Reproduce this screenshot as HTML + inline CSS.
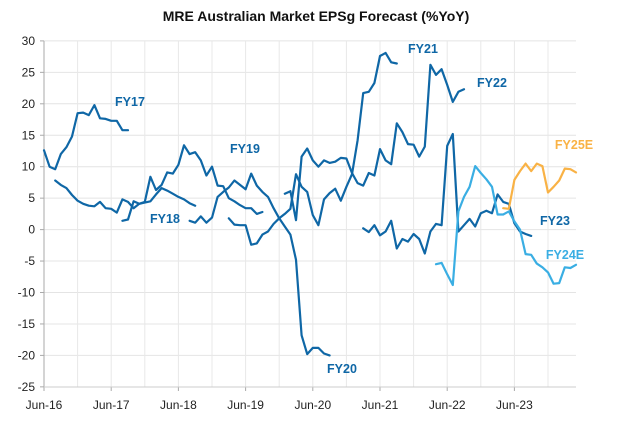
<!DOCTYPE html>
<html><head><meta charset="utf-8">
<style>
html,body{margin:0;padding:0;background:#fff;}
body{width:631px;height:426px;overflow:hidden;font-family:"Liberation Sans",sans-serif;}
svg text{font-family:"Liberation Sans",sans-serif;}
</style></head>
<body>
<svg id="chart" width="631" height="426" xmlns="http://www.w3.org/2000/svg">
<text x="316" y="21" text-anchor="middle" font-size="14" font-weight="bold" fill="#111">MRE Australian Market EPSg Forecast (%YoY)</text>
<g id="grid"></g>
<g id="axes"></g>
<g id="series"></g>
<g id="labels"></g>
</svg>
<script>
// month index 0 = Jun-16
const yTicks = [30,25,20,15,10,5,0,-5,-10,-15,-20,-25];
const xTickLabels = ["Jun-16","Jun-17","Jun-18","Jun-19","Jun-20","Jun-21","Jun-22","Jun-23"];
const seriesNames = ["FY17","FY18","FY19","FY20","FY21","FY22","FY23","FY24E","FY25E"];
const seriesStarts = [0,2,14,26,33,43,57,70,82];
const fy17 = [12.6,10,9.6,12,13.1,14.8,18.5,18.6,18.2,19.8,17.7,17.6,17.3,17.3,15.8,15.8];
const fy18 = [7.8,7.1,6.6,5.5,4.6,4.1,3.8,3.7,4.4,3.4,3.3,2.7,4.8,4.4,3.4,4.1,4.3,4.5,5.6,6.6,6.2,5.7,5.2,4.8,4.2,3.8];
const fy19 = [1.4,1.6,4.5,4.1,4.4,8.4,6.3,7.1,9.1,8.9,10.3,13.4,12,12.3,11,8.6,10,7,6.9,5,4.5,3.9,3.4,3.4,2.5,2.8];
const fy20 = [1.4,1.1,2.1,1.1,1.9,5.2,6,6.7,7.8,7.1,6.4,8.9,7,6,5.2,3.4,1.8,0.5,-0.8,-4.8,-16.8,-19.8,-18.8,-18.8,-19.7,-20];
const fy21 = [1.8,0.8,0.7,0.7,-2.4,-2.2,-0.8,-0.3,0.9,1.8,2.5,3.3,8.8,6.8,6,2.3,0.7,4.8,5.8,6.5,4.6,6.8,8.8,14.2,21.7,21.9,23.3,27.6,28.1,26.6,26.4];
const fy22 = [5.7,6.1,1.5,11.6,12.9,11.0,10.0,11.0,10.6,10.8,11.4,11.3,9.0,7.4,7.0,9.0,8.6,12.8,11.0,10.4,16.9,15.5,13.6,13.5,11.6,13.2,26.2,24.6,25.5,23,20.3,21.9,22.3];
const fy23 = [0.2,-0.4,0.7,-0.9,-0.3,1.4,-3,-1.5,-1.9,-0.7,-1.5,-3.8,-0.3,0.9,0.7,13.3,15.2,-0.3,0.7,1.7,0.5,2.6,3.0,2.6,5.6,4.4,4.1,1,-0.3,-0.7,-1];
const fy24e = [-5.5,-5.3,-7.1,-8.8,2.9,5.2,6.8,10.1,9.0,8,6.8,2.4,2.4,2.9,1.3,0,-3.9,-4,-5.4,-6,-6.8,-8.6,-8.5,-6,-6.1,-5.6];
const fy25e = [3.4,3.3,7.9,9.3,10.5,9.3,10.5,10.1,5.9,6.8,7.8,9.7,9.6,9.1];
const seriesValues = [fy17,fy18,fy19,fy20,fy21,fy22,fy23,fy24e,fy25e];

const DARK="#0f67a6", LIGHT="#3aaee3", ORANGE="#f9b245";
const seriesColors=[DARK,DARK,DARK,DARK,DARK,DARK,DARK,LIGHT,ORANGE];
const labelPos=[[130,106],[165,223],[245,153],[342,373],[423,53],[492,87],[555,225],[565,259],[574,149]];

const X0=44, XM=5.6, Y0=229.6, YU=6.29, XR=576, YT=41, YB=387;
const xS = m => X0 + m*XM;
const yS = v => Y0 - v*YU;
const NS="http://www.w3.org/2000/svg";
function mk(tag, attrs, parent){const e=document.createElementNS(NS,tag);for(const k in attrs)e.setAttribute(k,attrs[k]);parent.appendChild(e);return e;}
const grid=document.getElementById('grid'), axes=document.getElementById('axes'), ser=document.getElementById('series'), lab=document.getElementById('labels');

yTicks.forEach(v=>{
  const y=yS(v);
  if(v!==-25){const l=mk('line',{x1:X0,x2:XR,y1:y,y2:y,stroke:'#e4e4e4','stroke-width':1},grid);
  
  }
  const t=mk('line',{x1:X0-4,x2:X0,y1:y,y2:y,stroke:'#aaa','stroke-width':1},axes);
  
  
  const tx=mk('text',{x:35,y:y+4,'text-anchor':'end','font-size':12,fill:'#222'},axes);
  tx.textContent=v;
  
  
});
for(let m=6;m<=96;m+=6){
  const x=xS(m); if(x>XR+1) break;
  const l=mk('line',{x1:x,x2:x,y1:YT,y2:YB,stroke:'#e8e8e8','stroke-width':1},grid);
  
  
}
xTickLabels.forEach((s,i)=>{
  const x=xS(i*12);
  const t=mk('line',{x1:x,x2:x,y1:YB,y2:YB+4,stroke:'#aaa','stroke-width':1},axes);
  
  
  const tx=mk('text',{x:x,y:409,'text-anchor':'middle','font-size':12,fill:'#222'},axes);
  tx.textContent=s;
  
  
});
const ya=mk('line',{x1:X0,x2:X0,y1:YT,y2:YB,stroke:'#aaa','stroke-width':1},axes);


const xa=mk('line',{x1:X0,x2:XR,y1:YB,y2:YB,stroke:'#ccc','stroke-width':1},axes);



seriesValues.forEach((vals,i)=>{
  const pts=vals.map((v,j)=>xS(seriesStarts[i]+j).toFixed(1)+','+yS(v).toFixed(1)).join(' ');
  const p=mk('polyline',{points:pts,fill:'none',stroke:seriesColors[i],'stroke-width':2.2,'stroke-linejoin':'round','stroke-linecap':'round'},ser);
  
  
  const t=mk('text',{x:labelPos[i][0],y:labelPos[i][1],'text-anchor':'middle','font-size':12.5,'font-weight':'bold',fill:seriesColors[i]},lab);
  t.textContent=seriesNames[i];
  
  
});
</script>
</body></html>
